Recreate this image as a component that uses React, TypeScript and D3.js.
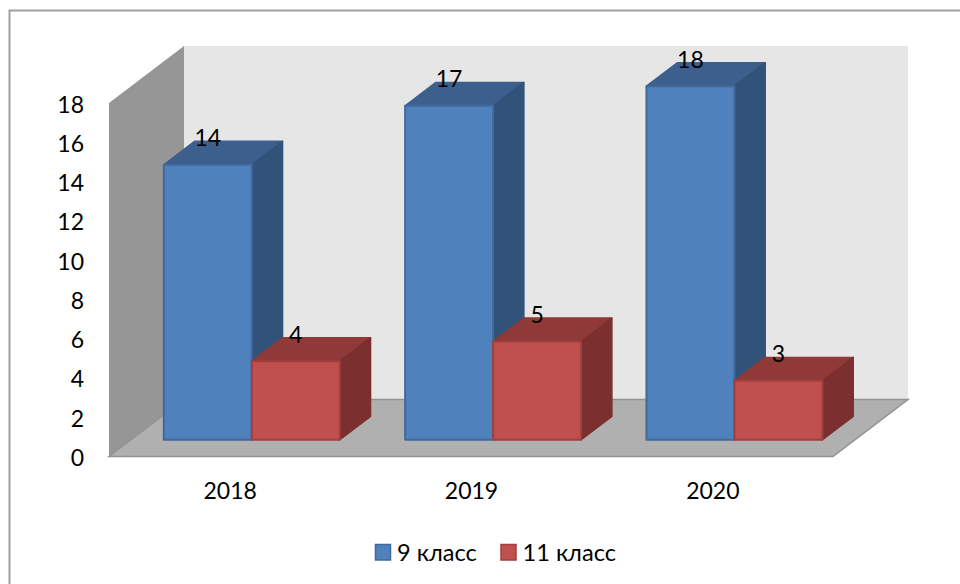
import * as d3 from "d3";

const years = ["2018", "2019", "2020"];
const seriesNames = ["9 класс", "11 класс"];
const grade9 = [14, 17, 18];
const grade11 = [4, 5, 3];
const yTicks = [0, 2, 4, 6, 8, 10, 12, 14, 16, 18];

const seriesValues = [grade9, grade11];

const colors = [
  { front: "#4f81bd", top: "#3c5f8d", side: "#325379", stroke: "#41699b" },
  { front: "#c0504d", top: "#8f3a38", side: "#7b2f2e", stroke: "#a03f3d" },
];

const width = 960;
const height = 584;

// front plane of the 3d box, and how far the depth axis shifts things
const left = 109;
const right = 833;
const floorY = 456.5;
const topY = 103;
const depthX = 75;
const depthY = 57;
const barDepth = 0.41; // share of the box depth taken by a bar

const font = "Lato, 'Open Sans', sans-serif";

const x = d3.scaleBand<string>().domain(years).range([left, right]).paddingInner(0.2707).paddingOuter(0.13535);
const xSeries = d3.scaleBand<string>().domain(seriesNames).range([0, x.bandwidth()]);
const y = d3.scaleLinear().domain([0, 18]).range([floorY, topY]);

// bars stand in the middle of the box depth
const barOffset = (1 - barDepth) / 2;
const barDx = depthX * barDepth;
const barDy = depthY * barDepth;
const offX = depthX * barOffset;
const offY = depthY * barOffset;

const poly = (pts: [number, number][]) => d3.line()(pts) + "Z";

const Bar = ({ year, s, value }: { year: string; s: number; value: number }) => {
  const x0 = x(year)! + xSeries(seriesNames[s])! + offX;
  const x1 = x0 + xSeries.bandwidth();
  const y0 = y(0) - offY;
  const y1 = y(value) - offY;
  const c = colors[s];
  return (
    <g stroke={c.stroke} strokeWidth={2} strokeLinejoin="round">
      <path d={poly([[x0, y1], [x1, y1], [x1 + barDx, y1 - barDy], [x0 + barDx, y1 - barDy]])} fill={c.top} stroke={c.top} strokeWidth={1.5} />
      <path d={poly([[x1, y0], [x1, y1], [x1 + barDx, y1 - barDy], [x1 + barDx, y0 - barDy]])} fill={c.side} stroke={c.side} strokeWidth={1.5} />
      <rect x={x0} y={y1} width={x1 - x0} height={y0 - y1} fill={c.front} />
    </g>
  );
};

export default function App() {
  return (
    <svg
      width={width}
      height={height}
      style={{ position: "fixed", left: 0, top: 0, background: "#fff" }}
      fontFamily={font}
      fontSize={23}
      fill="#000"
    >
      <path d={`M9.5,${height + 2}V10.5H${width + 2}`} fill="none" stroke="#a0a0a0" strokeWidth={2} />

      {/* box: back wall, side wall, floor */}
      <rect x={left + depthX} y={topY - depthY} width={right - left} height={floorY - topY} fill="#e6e6e6" />
      <path
        d={poly([[left, topY], [left + depthX, topY - depthY], [left + depthX, floorY - depthY], [left, floorY]])}
        fill="#969696"
      />
      <path
        d={poly([[left, floorY], [right, floorY], [right + depthX, floorY - depthY], [left + depthX, floorY - depthY]])}
        fill="#b0b0b0"
        stroke="#929292"
        strokeWidth={1.5}
      />

      {years.map((year, i) =>
        seriesNames.map((_, s) => <Bar key={year + s} year={year} s={s} value={seriesValues[s][i]} />)
      )}

      {yTicks.map((t) => (
        <text key={t} x={84} y={y(t) + 9.5} textAnchor="end">
          {t}
        </text>
      ))}

      {years.map((year) => (
        <text key={year} x={x(year)! + x.bandwidth() / 2 + 0.5} y={499} textAnchor="middle">
          {year}
        </text>
      ))}

      {years.map((year, i) =>
        seriesNames.map((name, s) => (
          <text
            key={year + name}
            x={x(year)! + xSeries(name)! + xSeries.bandwidth() / 2 + offX}
            y={y(seriesValues[s][i]) - offY - barDy + 5}
            textAnchor="middle"
          >
            {seriesValues[s][i]}
          </text>
        ))
      )}

      {seriesNames.map((name, s) => {
        const sx = s === 0 ? 375.5 : 501;
        return (
          <g key={name}>
            <rect x={sx} y={544.5} width={15} height={15.5} fill={colors[s].front} stroke={colors[s].stroke} strokeWidth={1.5} />
            <text x={sx + 21.5} y={560.5} fontSize={23.6}>
              {name}
            </text>
          </g>
        );
      })}
    </svg>
  );
}
